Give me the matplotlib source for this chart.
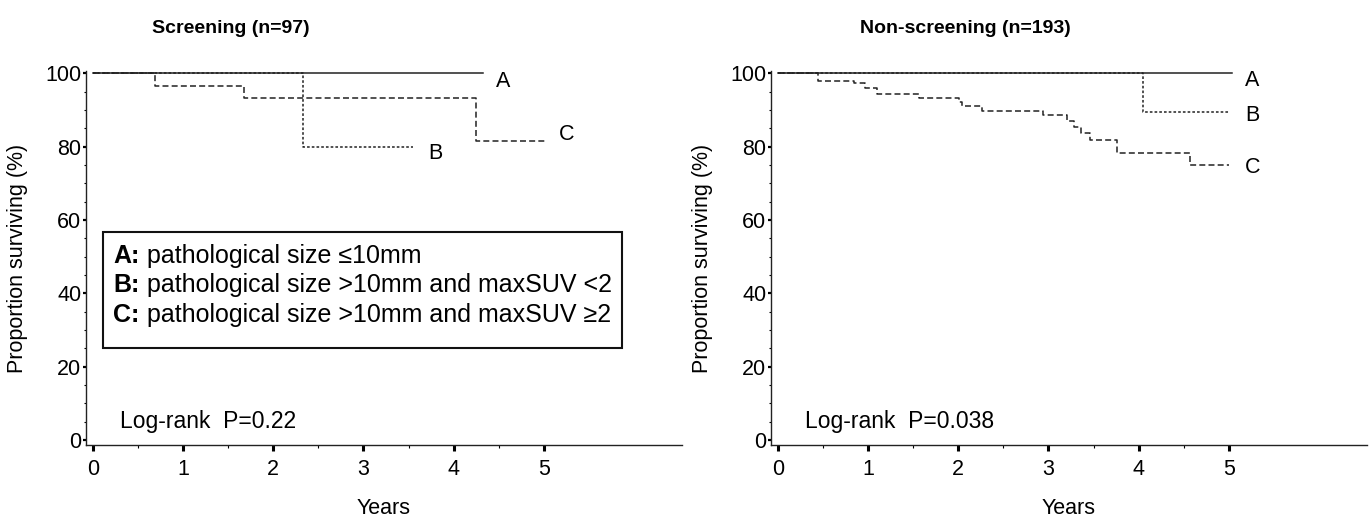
import matplotlib
matplotlib.use("Agg")
import matplotlib.pyplot as plt
from matplotlib.patches import Rectangle
from matplotlib.ticker import MultipleLocator

plt.rcParams["font.family"] = ["Liberation Sans", "DejaVu Sans"]
plt.rcParams["lines.scale_dashes"] = False

# =========================
# DATA
# =========================
# Screening (n=97)
scr_a_t = [0, 4.32]
scr_a_s = [100, 100]
scr_b_t = [0, 2.33, 3.55]
scr_b_s = [100, 80, 80]
scr_c_t = [0, 0.69, 1.68, 4.25, 5.02]
scr_c_s = [100, 96.6, 93.2, 81.5, 81.5]

# Non-screening (n=193)
non_a_t = [0, 5.03]
non_a_s = [100, 100]
non_b_t = [0, 4.05, 5.0]
non_b_s = [100, 89.5, 89.5]
non_c_t = [0, 0.45, 0.84, 0.97, 1.10, 1.57, 2.01, 2.04, 2.26, 2.94,
           3.20, 3.28, 3.36, 3.46, 3.76, 4.57, 5.0]
non_c_s = [100, 98.0, 97.3, 95.9, 94.4, 93.4, 92.3, 91.1, 89.8, 88.6,
           87.0, 85.4, 83.8, 81.8, 78.2, 75.0, 75.0]

titles = ["Screening (n=97)", "Non-screening (n=193)"]
pvalues = ["Log-rank  P=0.22", "Log-rank  P=0.038"]
x_ticks = [0, 1, 2, 3, 4, 5]
y_ticks = [0, 20, 40, 60, 80, 100]

legend_keys = ["A:", "B:", "C:"]
legend_texts = ["pathological size \u226410mm",
                "pathological size >10mm and maxSUV <2",
                "pathological size >10mm and maxSUV \u22652"]

# =========================
# FIGURE
# =========================
W, H = 1371, 518
fig = plt.figure(figsize=(W / 100, H / 100), dpi=100)

def px_axes(left, bottom_px, right, top_px):
    return fig.add_axes([left / W, 1 - bottom_px / H, (right - left) / W,
                         (bottom_px - top_px) / H])

ax1 = px_axes(86, 445, 682, 71.5)
ax2 = px_axes(771, 445, 1367, 71.5)

line_col = "#222222"
style_a = dict(color=line_col, lw=1.1, linestyle="-")
style_b = dict(color=line_col, lw=1.1, linestyle=(0, (1.9, 1.5)))
style_c = dict(color=line_col, lw=1.1, linestyle=(0, (4.3, 2.3)))

panels = [
    (ax1, (scr_a_t, scr_a_s), (scr_b_t, scr_b_s), (scr_c_t, scr_c_s),
     [(4.47, 97.7), (3.72, 78.2), (5.17, 83.4)]),
    (ax2, (non_a_t, non_a_s), (non_b_t, non_b_s), (non_c_t, non_c_s),
     [(5.18, 98.0), (5.18, 88.6), (5.18, 74.2)]),
]

for i, (ax, a, b, c, lab_pos) in enumerate(panels):
    ax.step(a[0], a[1], where="post", **style_a)
    ax.step(b[0], b[1], where="post", **style_b)
    ax.step(c[0], c[1], where="post", **style_c)

    for name, (lx, ly) in zip(["A", "B", "C"], lab_pos):
        ax.text(lx, ly, name, fontsize=15.5, ha="left", va="center")

    ax.set_xlim(-0.075, 6.53)
    ax.set_ylim(-1.4, 100.5)
    ax.spines["top"].set_visible(False)
    ax.spines["right"].set_visible(False)
    for s in ["left", "bottom"]:
        ax.spines[s].set_linewidth(1.0)
        ax.spines[s].set_color("#222222")

    ax.set_xticks(x_ticks)
    ax.set_yticks(y_ticks)
    ax.yaxis.set_minor_locator(MultipleLocator(5))
    ax.set_xticks([0.5, 1.5, 2.5, 3.5, 4.5], minor=True)
    ax.tick_params(axis="x", which="major", length=4, width=2.2, pad=6, labelsize=15.5)
    ax.tick_params(axis="x", which="minor", length=2.5, width=0.8)
    ax.tick_params(axis="y", which="major", length=2.5, width=1.6, pad=1, labelsize=15.5)
    ax.tick_params(axis="y", which="minor", length=1.8, width=0.8)

    ax.set_xlabel("Years", fontsize=15.5, va="top")
    ax.xaxis.set_label_coords(0.5, -0.142)
    ax.set_ylabel("Proportion surviving (%)", fontsize=15.5)
    ax.yaxis.set_label_coords(-0.097, 0.5)

    ax.text(0.3, 5.0, pvalues[i], fontsize=16.5, ha="left", va="center")

# titles
fig.text(231 / W, 1 - 33 / H, titles[0], fontsize=14, fontweight="bold",
         ha="center", va="baseline")
fig.text(965 / W, 1 - 33 / H, titles[1], fontsize=14, fontweight="bold",
         ha="center", va="baseline")

# legend box on the screening panel
legend_items = []
for j, (k, t) in enumerate(zip(legend_keys, legend_texts)):
    y = 50.2 - j * 8.0
    ax1.text(0.225, y, k, fontsize=18, fontweight="bold", ha="left", va="center")
    legend_items.append(ax1.text(0.598, y, t, fontsize=18, ha="left", va="center"))

fig.canvas.draw()
renderer = fig.canvas.get_renderer()
right_px = max(t.get_window_extent(renderer).x1 for t in legend_items) + 10
right_data = ax1.transData.inverted().transform((right_px, 0))[0]
ax1.add_patch(Rectangle((0.117, 25.2), right_data - 0.117, 56.8 - 25.2,
                        fill=False, lw=1.5, edgecolor="#111111"))

fig.savefig("out.png", dpi=100)
print("saved out.png")
